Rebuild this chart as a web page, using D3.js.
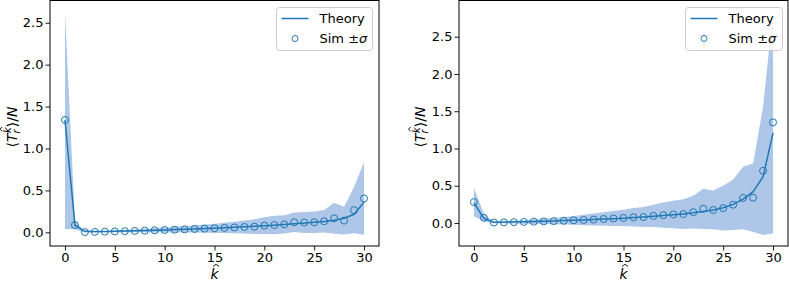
<!DOCTYPE html>
<html>
<head>
<meta charset="utf-8">
<script src="https://cdn.jsdelivr.net/npm/d3@7"></script>
<style>
  html, body { margin: 0; padding: 0; background: #fff; }
  svg { display: block; font-family: "DejaVu Sans", sans-serif; }
</style>
</head>
<body>
<svg id="chart" width="789" height="281"></svg>
<script>
// ---------- data ----------
const k = d3.range(0, 31);
const xTicks = [0, 5, 10, 15, 20, 25, 30];
const yTicks = [0.0, 0.5, 1.0, 1.5, 2.0, 2.5];

// Left panel
const theoryL = [1.34, 0.085, 0.012, 0.010, 0.011, 0.013, 0.016, 0.019, 0.022, 0.025, 0.029,
  0.033, 0.037, 0.041, 0.045, 0.050, 0.055, 0.060, 0.066, 0.072, 0.078,
  0.085, 0.093, 0.101, 0.110, 0.120, 0.130, 0.145, 0.168, 0.215, 0.360];
const simL = [1.34, 0.087, 0.003, 0.005, 0.008, 0.011, 0.014, 0.017, 0.020, 0.024, 0.028,
  0.032, 0.036, 0.040, 0.044, 0.048, 0.053, 0.058, 0.064, 0.068, 0.080,
  0.087, 0.095, 0.120, 0.118, 0.120, 0.132, 0.167, 0.140, 0.265, 0.405];
const sdL = [1.30, 0.05, 0.005, 0.006, 0.008, 0.010, 0.013, 0.016, 0.020, 0.025, 0.030,
  0.034, 0.038, 0.043, 0.048, 0.055, 0.060, 0.068, 0.078, 0.088, 0.100,
  0.110, 0.108, 0.117, 0.125, 0.127, 0.133, 0.185, 0.165, 0.275, 0.435];

// Right panel
const theoryR = [0.27, 0.060, 0.010, 0.012, 0.015, 0.018, 0.021, 0.024, 0.028, 0.032, 0.036,
  0.041, 0.046, 0.052, 0.058, 0.065, 0.072, 0.080, 0.090, 0.100, 0.110,
  0.122, 0.136, 0.155, 0.175, 0.205, 0.250, 0.320, 0.420, 0.620, 1.210];
const simR = [0.28, 0.070, 0.006, 0.008, 0.011, 0.014, 0.017, 0.021, 0.025, 0.030, 0.035,
  0.040, 0.046, 0.053, 0.060, 0.068, 0.077, 0.080, 0.095, 0.105, 0.115,
  0.120, 0.145, 0.190, 0.175, 0.200, 0.245, 0.335, 0.340, 0.700, 1.350];
const sdR = [0.19, 0.05, 0.008, 0.013, 0.018, 0.024, 0.030, 0.036, 0.043, 0.050, 0.060,
  0.070, 0.080, 0.090, 0.100, 0.110, 0.125, 0.135, 0.150, 0.170, 0.185,
  0.200, 0.220, 0.270, 0.260, 0.300, 0.340, 0.420, 0.460, 0.860, 1.490];

const legendLabels = ["Theory", "Sim \u00b1"];

// ---------- style ----------
const blue = "#1f77b4";
const bandColor = "#aec7e8";
const fontSize = 13;
const labelSize = 14;

const svg = d3.select("#chart");

function hat(sel, cx, top, half) {
  sel.append("path")
    .attr("d", `M${cx - half},${top + 2.2}L${cx},${top}L${cx + half},${top + 2.2}`)
    .attr("fill", "none").attr("stroke", "#000").attr("stroke-width", 0.9)
    .attr("stroke-linejoin", "miter");
}

function panel(opts) {
  const { left, right, top, bottom, yDomain, theory, sim, sd, id, ylabelX, legendBox } = opts;
  const x = d3.scaleLinear().domain([-1.5, 31.5]).range([left, right]);
  const y = d3.scaleLinear().domain(yDomain).range([bottom, top]);

  const g = svg.append("g");
  g.append("clipPath").attr("id", id).append("rect")
    .attr("x", left).attr("y", top).attr("width", right - left).attr("height", bottom - top);

  const plot = g.append("g").attr("clip-path", `url(#${id})`);
  const rows = k.map((kk, i) => ({ k: kk, t: theory[i], m: sim[i], s: sd[i] }));

  plot.append("path").datum(rows)
    .attr("fill", bandColor)
    .attr("d", d3.area().x(d => x(d.k)).y0(d => y(d.m - d.s)).y1(d => y(d.m + d.s)));

  plot.append("path").datum(rows)
    .attr("fill", "none").attr("stroke", blue).attr("stroke-width", 1.5)
    .attr("d", d3.line().x(d => x(d.k)).y(d => y(d.t)));

  plot.selectAll("circle.sim").data(rows).join("circle")
    .attr("class", "sim")
    .attr("cx", d => x(d.k)).attr("cy", d => y(d.m)).attr("r", 3.5)
    .attr("fill", "none").attr("stroke", blue).attr("stroke-width", 1);

  // axes
  const xa = g.append("g").attr("transform", `translate(0,${bottom})`)
    .call(d3.axisBottom(x).tickValues(xTicks).tickFormat(d3.format("d")).tickSize(4.5).tickPadding(2.5));
  const ya = g.append("g").attr("transform", `translate(${left},0)`)
    .call(d3.axisLeft(y).tickValues(yTicks).tickFormat(d3.format(".1f")).tickSize(4.5).tickPadding(2));
  [xa, ya].forEach(a => {
    a.select(".domain").remove();
    a.selectAll("text").attr("font-size", fontSize).attr("fill", "#000")
      .attr("font-family", "DejaVu Sans, sans-serif");
    a.selectAll("line").attr("stroke", "#000").attr("stroke-width", 0.9);
  });

  // frame
  g.append("rect").attr("x", left).attr("y", top + 0.5)
    .attr("width", right - left).attr("height", bottom - top - 0.5)
    .attr("fill", "none").attr("stroke", "#000").attr("stroke-width", 1);

  // x label  k-hat
  const cx = (left + right) / 2;
  g.append("text").attr("x", cx).attr("y", 279)
    .attr("text-anchor", "middle").attr("font-size", labelSize).attr("font-style", "italic")
    .text("k");
  hat(g, cx + 1.5, 264.3, 3);

  // y label  <T_r^k-hat>/N
  const lg0 = g.append("g")
    .attr("transform", `translate(${ylabelX},${(top + bottom) / 2 + 4}) rotate(-90)`);
  const yl = lg0.append("text")
    .attr("text-anchor", "middle").attr("font-size", labelSize);
  yl.append("tspan").text("\u27e8");
  yl.append("tspan").attr("font-style", "italic").text("T");
  yl.append("tspan").attr("font-style", "italic").attr("font-size", 10).attr("dy", 3).text("r");
  yl.append("tspan").attr("font-style", "italic").attr("font-size", 10).attr("dx", -3.8).attr("dy", -8.5).text("k");
  yl.append("tspan").attr("dy", 5.5).text("\u27e9/");
  yl.append("tspan").attr("font-style", "italic").text("N");
  // hat over superscript k
  try {
    const e = yl.node().getExtentOfChar(3);
    const kTop = e.y + e.height * 0.93 / 1.16 - 7.6; // glyph top approx (baseline - 0.76em)
    hat(lg0, e.x + e.width / 2 + 1, kTop - 3.2, 2.3);
  } catch (err) {}

  // legend
  const lg = g.append("g");
  lg.append("rect").attr("x", legendBox[0]).attr("y", legendBox[1])
    .attr("width", legendBox[2]).attr("height", legendBox[3]).attr("rx", 3)
    .attr("fill", "#fff").attr("fill-opacity", 0.8)
    .attr("stroke", "#cccccc").attr("stroke-width", 1);
  const lx = legendBox[0] + 5;
  lg.append("line").attr("x1", lx).attr("x2", lx + 27)
    .attr("y1", legendBox[1] + 11).attr("y2", legendBox[1] + 11)
    .attr("stroke", blue).attr("stroke-width", 1.5);
  lg.append("circle").attr("cx", lx + 13.5).attr("cy", legendBox[1] + 31)
    .attr("r", 3).attr("fill", "none").attr("stroke", blue).attr("stroke-width", 1);
  lg.append("text").attr("x", lx + 38).attr("y", legendBox[1] + 15.5)
    .attr("font-size", fontSize).text(legendLabels[0]);
  const t2 = lg.append("text").attr("x", lx + 38).attr("y", legendBox[1] + 35.5)
    .attr("font-size", fontSize);
  t2.append("tspan").text(legendLabels[1]);
  t2.append("tspan").attr("font-style", "italic").text("\u03c3");
}

panel({
  id: "clipL", left: 50, right: 379, top: 0, bottom: 246,
  yDomain: [-0.163, 2.771], theory: theoryL, sim: simL, sd: sdL,
  ylabelX: 16.5, legendBox: [276.5, 7.5, 96, 43]
});
panel({
  id: "clipR", left: 459, right: 788, top: 0, bottom: 246,
  yDomain: [-0.309, 2.993], theory: theoryR, sim: simR, sd: sdR,
  ylabelX: 425, legendBox: [685.5, 7.5, 97, 43]
});
</script>
</body>
</html>
